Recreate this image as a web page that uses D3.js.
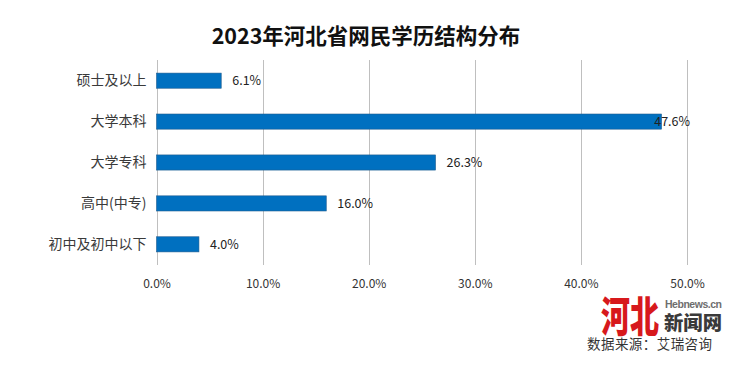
<!DOCTYPE html>
<html><head><meta charset="utf-8">
<script src="https://cdn.jsdelivr.net/npm/d3@7/dist/d3.min.js"></script>
<style>body{margin:0;background:#fff}svg{display:block}</style>
</head><body>
<svg id="c" width="750" height="368"></svg>
<script>
const title = "2023年河北省网民学历结构分布";
const categories = ["硕士及以上", "大学本科", "大学专科", "高中(中专)", "初中及初中以下"];
const values = [6.1, 47.6, 26.3, 16.0, 4.0];
const tickValues = [0, 10, 20, 30, 40, 50];
const sourceText = "数据来源：艾瑞咨询";

const svg = d3.select("#c");
const font = "'Noto Sans CJK SC', 'Noto Sans', sans-serif";
const m = {left: 156.5, right: 687, top: 60, bottom: 265};
const x = d3.scaleLinear().domain([0, 50]).range([m.left, m.right]);
const y = d3.scaleBand().domain(categories).range([m.top, m.bottom]).paddingInner(0.63).paddingOuter(0.32);

svg.append("text").attr("x", 366).attr("y", 44).attr("text-anchor", "middle")
  .attr("font-family", font).attr("font-weight", "bold").attr("font-size", 21.5).attr("fill", "#111")
  .text(title);

// gridlines
svg.append("g").selectAll("line").data(tickValues).join("line")
  .attr("x1", d => Math.round(x(d)) + 0.5).attr("x2", d => Math.round(x(d)) + 0.5)
  .attr("y1", m.top).attr("y2", m.bottom).attr("stroke", "#BFBFBF").attr("stroke-width", 1);

// x axis labels
const ax = svg.append("g").attr("transform", `translate(0,${m.bottom})`)
  .call(d3.axisBottom(x).tickValues(tickValues).tickFormat(d => d.toFixed(1) + "%").tickSize(0).tickPadding(14));
ax.select(".domain").remove();
ax.selectAll("text").attr("font-family", font).attr("font-size", 12).attr("fill", "#333");

// y labels
const ay = svg.append("g").attr("transform", `translate(${m.left},0)`)
  .call(d3.axisLeft(y).tickSize(0).tickPadding(10));
ay.select(".domain").remove();
ay.selectAll("text").attr("font-family", font).attr("font-size", 14).attr("fill", "#3a3a3a");

// bars
const data = categories.map((c, i) => ({c, v: values[i]}));
svg.append("g").selectAll("rect").data(data).join("rect")
  .attr("x", x(0)).attr("y", d => y(d.c))
  .attr("width", d => x(d.v) - x(0)).attr("height", y.bandwidth())
  .attr("fill", "#0070C0").attr("stroke", "#1F5C8F").attr("stroke-width", 0.6);

// value labels
const lbl = svg.append("g").selectAll("text").data(data).join("text")
  .attr("y", d => y(d.c) + y.bandwidth() / 2).attr("dy", "0.35em")
  .attr("font-family", font).attr("font-size", 12.5).attr("fill", "#222")
  .text(d => d.v.toFixed(1) + "%");
lbl.each(function(d) {
  const w = this.getComputedTextLength();
  d3.select(this).attr("x", Math.min(x(d.v) + 11, 690 - w));
});

// source & watermark
svg.append("text").attr("x", 587).attr("y", 349).attr("font-family", font).attr("font-size", 13.5)
  .attr("fill", "#333").attr("textLength", 125).text(sourceText);
const wm = svg.append("g");
wm.append("text").attr("x", 601).attr("y", 332).attr("font-family", "'Noto Sans CJK SC', sans-serif")
  .attr("font-weight", "900").attr("font-size", 42).attr("fill", "#D7191C")
  .attr("textLength", 58).attr("lengthAdjust", "spacingAndGlyphs").text("河北");
wm.append("text").attr("x", 665).attr("y", 308).attr("font-family", "Arial, 'Liberation Sans', sans-serif")
  .attr("font-weight", "bold").attr("font-size", 10.5).attr("fill", "#6E6E6E")
  .attr("textLength", 57).text("Hebnews.cn");
wm.append("text").attr("x", 664).attr("y", 330).attr("font-family", font)
  .attr("font-weight", "900").attr("font-size", 19).attr("fill", "#3A3A3A")
  .attr("textLength", 58).attr("lengthAdjust", "spacingAndGlyphs").text("新闻网");
</script>
</body></html>
